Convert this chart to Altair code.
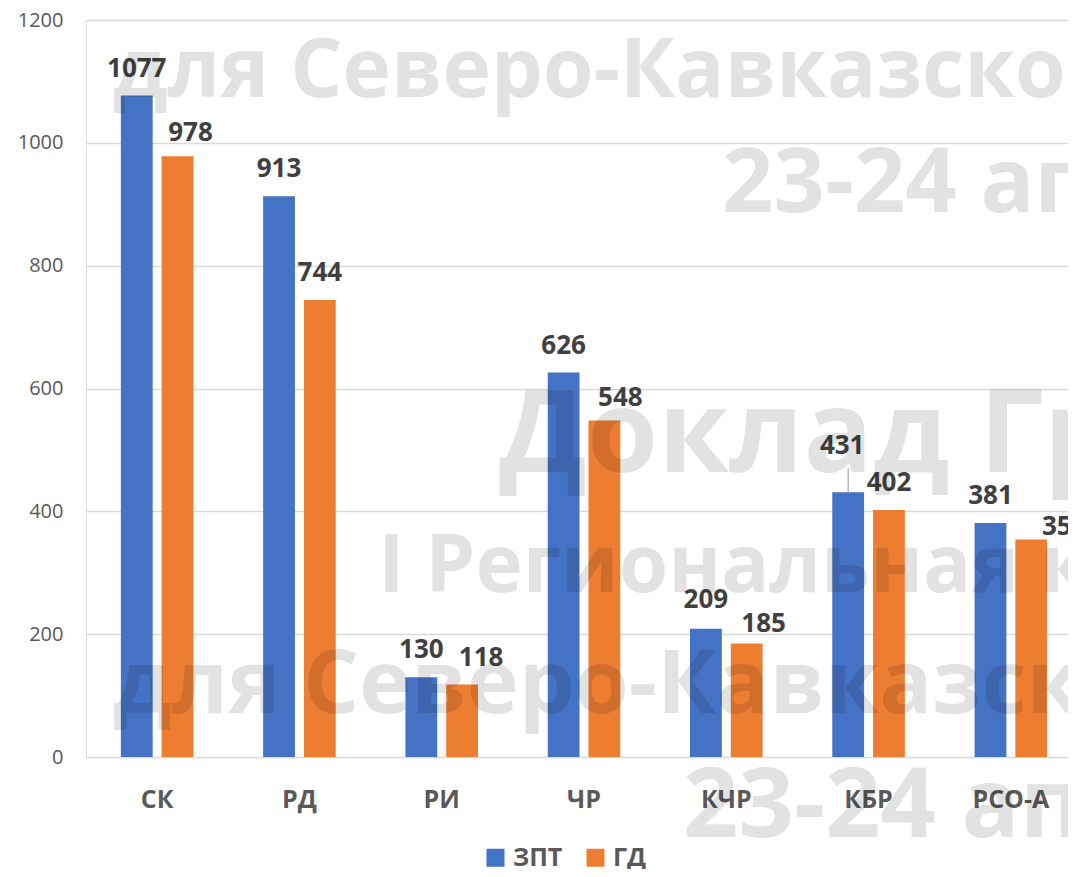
import altair as alt
import pandas as pd

# ---- data ----
categories = ["СК", "РД", "РИ", "ЧР", "КЧР", "КБР", "РСО-А"]
series_names = ["ЗПТ", "ГД"]
zpt_values = [1077, 913, 130, 626, 209, 431, 381]
gd_values = [978, 744, 118, 548, 185, 402, 354]
y_ticks = [0, 200, 400, 600, 800, 1000, 1200]

watermark_lines = [
    "для Северо-Кавказского",
    "23-24 апреля",
    "Доклад Группы",
    "I Региональная конференция",
    "для Северо-Кавказского",
    "23-24 апреля",
]

# ---- styles ----
colors = ["#4472C4", "#ED7D31"]
FONT = "Open Sans"
PLOT_W, PLOT_H = 982, 737
BAND_RANGE = 996          # full category range (runs past the visible edge)
Y_MAX = 1200
# per-label pixel nudges (dx, dy) as placed in the original
label_nudge = {
    ("СК", "ГД"): (13, 4),
    ("РИ", "ГД"): (19, 0),
    ("ЧР", "ГД"): (16, 5),
    ("КЧР", "ЗПТ"): (0, -2),
    ("КЧР", "ГД"): (17, 8),
    ("КБР", "ЗПТ"): (-6, -19),
    ("РСО-А", "ГД"): (33, 14),
}
leader_px = 24
# watermark placement: (x, baseline y, font size) in plot pixels
wm_style = [
    (27, 77, 82),
    (636, 192, 90),
    (413, 452, 115),
    (292, 572, 80),
    (27, 693, 88),
    (597, 817, 97),
]

rows = []
for i, c in enumerate(categories):
    rows.append({"cat": c, "series": "ЗПТ", "value": zpt_values[i]})
    rows.append({"cat": c, "series": "ГД", "value": gd_values[i]})
df = pd.DataFrame(rows)

x_enc = alt.X(
    "cat:N",
    sort=categories,
    scale=alt.Scale(paddingInner=0.49, paddingOuter=0.245, range=[0, BAND_RANGE]),
    axis=alt.Axis(
        title=None,
        labelFont=FONT,
        labelFontSize=25,
        labelFontWeight="bold",
        labelColor="#595959",
        labelPadding=30,
        labelAngle=0,
        ticks=False,
        domain=False,
    ),
)
xoff_enc = alt.XOffset(
    "series:N", sort=series_names, scale=alt.Scale(paddingInner=0.22, paddingOuter=0)
)
y_enc = alt.Y(
    "value:Q",
    scale=alt.Scale(domain=[0, Y_MAX], nice=False),
    axis=alt.Axis(
        title=None,
        values=y_ticks,
        format="d",
        labelFont=FONT,
        labelFontSize=20,
        labelColor="#595959",
        labelPadding=23,
        ticks=False,
        tickSize=0,
        domain=False,
        grid=True,
        gridColor="#D9D9D9",
        gridWidth=1.5,
    ),
)

base = alt.Chart(df)

bars = base.mark_bar().encode(
    x=x_enc,
    xOffset=xoff_enc,
    y=y_enc,
    color=alt.Color(
        "series:N",
        sort=series_names,
        scale=alt.Scale(domain=series_names, range=colors),
        legend=alt.Legend(
            title=None,
            orient="none",
            legendX=397,
            legendY=825,
            direction="horizontal",
            symbolType="square",
            symbolSize=324,
            symbolStrokeWidth=0,
            labelFont=FONT,
            labelFontSize=25,
            labelFontWeight="bold",
            labelColor="#595959",
            labelOffset=5,
            columnPadding=20,
            padding=0,
        ),
    ),
)

layers = [bars]

# data labels
for c in categories:
    for s in series_names:
        dx, dy = label_nudge.get((c, s), (0, 0))
        lab = (
            base.transform_filter(
                (alt.datum.cat == c) & (alt.datum.series == s)
            )
            .mark_text(
                font=FONT,
                fontSize=26,
                fontWeight="bold",
                color="#404040",
                baseline="alphabetic",
                align="center",
                dx=dx,
                dy=-19 + dy,
            )
            .encode(x=x_enc, xOffset=xoff_enc, y=y_enc, text="value:Q")
        )
        layers.append(lab)

# leader line for the lifted label
units_per_px = Y_MAX / PLOT_H
leader = (
    base.transform_filter((alt.datum.cat == "КБР") & (alt.datum.series == "ЗПТ"))
    .transform_calculate(top=f"datum.value + {leader_px * units_per_px}")
    .mark_rule(color="#A6A6A6", strokeWidth=1.2)
    .encode(x=x_enc, xOffset=xoff_enc, y=y_enc, y2="top:Q")
)
layers.append(leader)

# watermark
for txt, (wx, wy, fs) in zip(watermark_lines, wm_style):
    wm = (
        alt.Chart(pd.DataFrame({"t": [txt]}))
        .mark_text(
            font=FONT,
            fontSize=fs,
            fontWeight="bold",
            color="#000000",
            opacity=0.11,
            align="left",
            baseline="alphabetic",
        )
        .encode(x=alt.value(wx), y=alt.value(wy), text="t:N")
    )
    layers.append(wm)

chart = (
    alt.layer(*layers)
    .properties(
        width=PLOT_W,
        height=PLOT_H,
        autosize=alt.AutoSizeParams(type="none"),
        padding={"left": 78, "top": 12, "right": 0, "bottom": 112},
    )
    .configure_view(stroke=None)
    .configure(background="white")
)

chart.save("out.html", embed_options={"renderer": "svg", "actions": False})
